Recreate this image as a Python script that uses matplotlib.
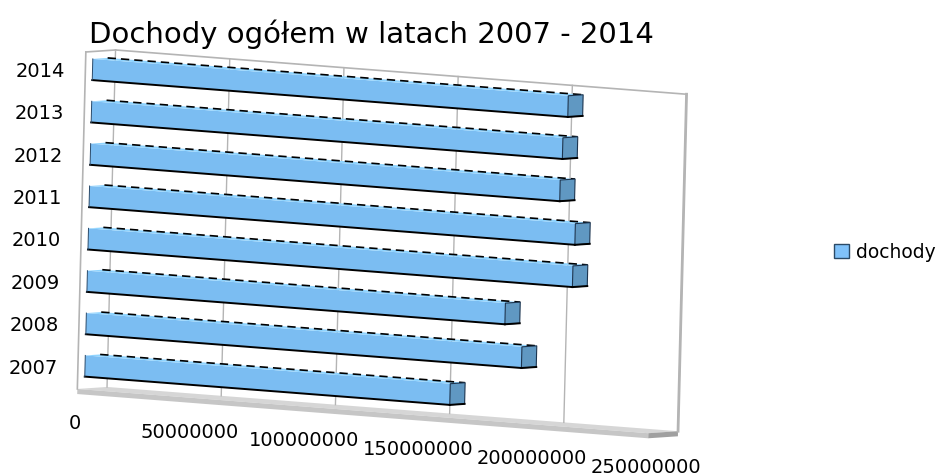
import matplotlib
matplotlib.use("Agg")
import matplotlib.pyplot as plt
from matplotlib.transforms import Affine2D, offset_copy
from matplotlib.patches import Patch
import numpy as np

plt.rcParams['font.family'] = ['DejaVu Sans']

# ---------------- data ----------------
title = "Dochody ogółem w latach 2007 - 2014"
years = ['2007', '2008', '2009', '2010', '2011', '2012', '2013', '2014']
dochody = [159.8e6, 190.7e6, 183.0e6, 212.1e6, 212.7e6, 205.6e6, 206.3e6, 208.2e6]
x_ticks = [0, 50000000, 100000000, 150000000, 200000000, 250000000]
series_name = 'dochody'

# ---------------- style / projection ----------------
FRONT = '#7bbdf2'
SIDE = '#6098c2'
TOP = '#8fd4ff'
GRID = '#b4b4b4'

A = 2.284e-6          # px per unit value (along value axis)
C = 0.0775 * A        # vertical drift per unit value
B = 1.07              # x lean per category row
D = -42.36            # y per category row
E = 29.7              # x per full depth
F = -2.0              # y per full depth
X0, Y0 = 77.9, 366.5
IB, IT = -0.53, 7.425  # wall bottom / top in row units
ZF, ZB = 0.24, 0.74    # bar depth extent
H = 0.5                # bar thickness in row units
VMAX = x_ticks[-1]
FS = 14

fig = plt.figure(figsize=(9.43, 4.76), dpi=100)
ax = fig.add_axes([0, 0, 1, 1])
ax.set_xlim(0, 943)
ax.set_ylim(476, 0)
ax.set_axis_off()


def T_vi(z):
    return Affine2D(np.array([[A, B, X0 + E * z], [C, D, Y0 + F * z], [0, 0, 1]])) + ax.transData


def T_zi(v):
    return Affine2D(np.array([[E, B, X0 + A * v], [F, D, Y0 + C * v], [0, 0, 1]])) + ax.transData


def T_vz(i):
    return Affine2D(np.array([[A, E, X0 + B * i], [C, F, Y0 + D * i], [0, 0, 1]])) + ax.transData


# ---------------- floor ----------------
t = 0.12
ax.fill([0, VMAX, VMAX, 0], [0, 0, 1, 1], transform=T_vz(IB), color='#d6d6d6', lw=0, zorder=1)
ax.fill([0, VMAX, VMAX, 0], [IB, IB, IB - t, IB - t], transform=T_vi(0), color='#c6c6c6', lw=0, zorder=1)
ax.fill([0, 1, 1, 0], [IB, IB, IB - t, IB - t], transform=T_zi(VMAX), color='#a0a0a0', lw=0, zorder=1)

# ---------------- walls & gridlines ----------------
for v in x_ticks:
    ax.plot([v, v], [IB, IT], transform=T_vi(1), color=GRID, lw=1.0, zorder=1)
ax.plot([VMAX, VMAX], [IB, IT], transform=T_vi(1), color=GRID, lw=2.0, zorder=1)
ax.plot([0, VMAX], [IT, IT], transform=T_vi(1), color=GRID, lw=1.2, zorder=1)
ax.plot([0, 1], [IT, IT], transform=T_zi(0), color=GRID, lw=1.2, zorder=1)
ax.plot([0, 0], [IB, IT], transform=T_zi(0), color=GRID, lw=1.2, zorder=1)

# ---------------- bars ----------------
rows = np.arange(len(years))
ax.barh(rows, dochody, height=H, left=0, transform=T_vi(ZF), color=FRONT, linewidth=0, zorder=3)
for i, val in zip(rows, dochody):
    # top face
    ax.fill([0, val, val, 0], [ZF, ZF, ZB, ZB], transform=T_vz(i + H / 2), color=TOP, lw=0, zorder=3)
    ax.plot([0, val], [ZB, ZB], transform=T_vz(i + H / 2), color='black', lw=1.2,
            dashes=(5, 3), zorder=4)
    # side face
    ax.fill([ZF, ZB, ZB, ZF], [i - H / 2, i - H / 2, i + H / 2, i + H / 2], transform=T_zi(val),
            facecolor=SIDE, edgecolor='#1c3550', lw=0.8, zorder=4)
    # bottom edges
    ax.plot([0, val], [i - H / 2, i - H / 2], transform=T_vi(ZF), color='black', lw=1.4, zorder=5)
    ax.plot([ZF, ZB], [i - H / 2, i - H / 2], transform=T_zi(val), color='black', lw=1.4, zorder=5)
    ax.plot([0, 0], [i - H / 2, i + H / 2], transform=T_vi(ZF), color='#2a4a6a', lw=0.7, zorder=5)

# ---------------- tick labels ----------------
ylab_tr = offset_copy(T_vi(0), fig=fig, x=-20, y=-1.5, units='dots')
for i, lab in zip(rows, years):
    ax.text(0, i, lab, transform=ylab_tr, ha='right', va='center', fontsize=FS, color='black')

xlab_tr = offset_copy(T_vi(0), fig=fig, x=-2, y=-34.3, units='dots')
for v in x_ticks:
    ax.text(v, IB, f"{int(v)}", transform=xlab_tr, ha='center', va='center', fontsize=FS, color='black')

# ---------------- title ----------------
ax.text(89, 43, title, fontsize=21, ha='left', va='baseline', color='black')

# ---------------- legend ----------------
fig.legend(handles=[Patch(facecolor='#80c2fa', edgecolor='#2b4a66', linewidth=1.0)],
           labels=[series_name], loc='center left', bbox_to_anchor=(834 / 943, 1 - 252 / 476),
           frameon=False, handlelength=0.8, handleheight=0.8, handletextpad=0.4,
           fontsize=13.4, borderpad=0, borderaxespad=0)

fig.savefig('out.png', dpi=100)
